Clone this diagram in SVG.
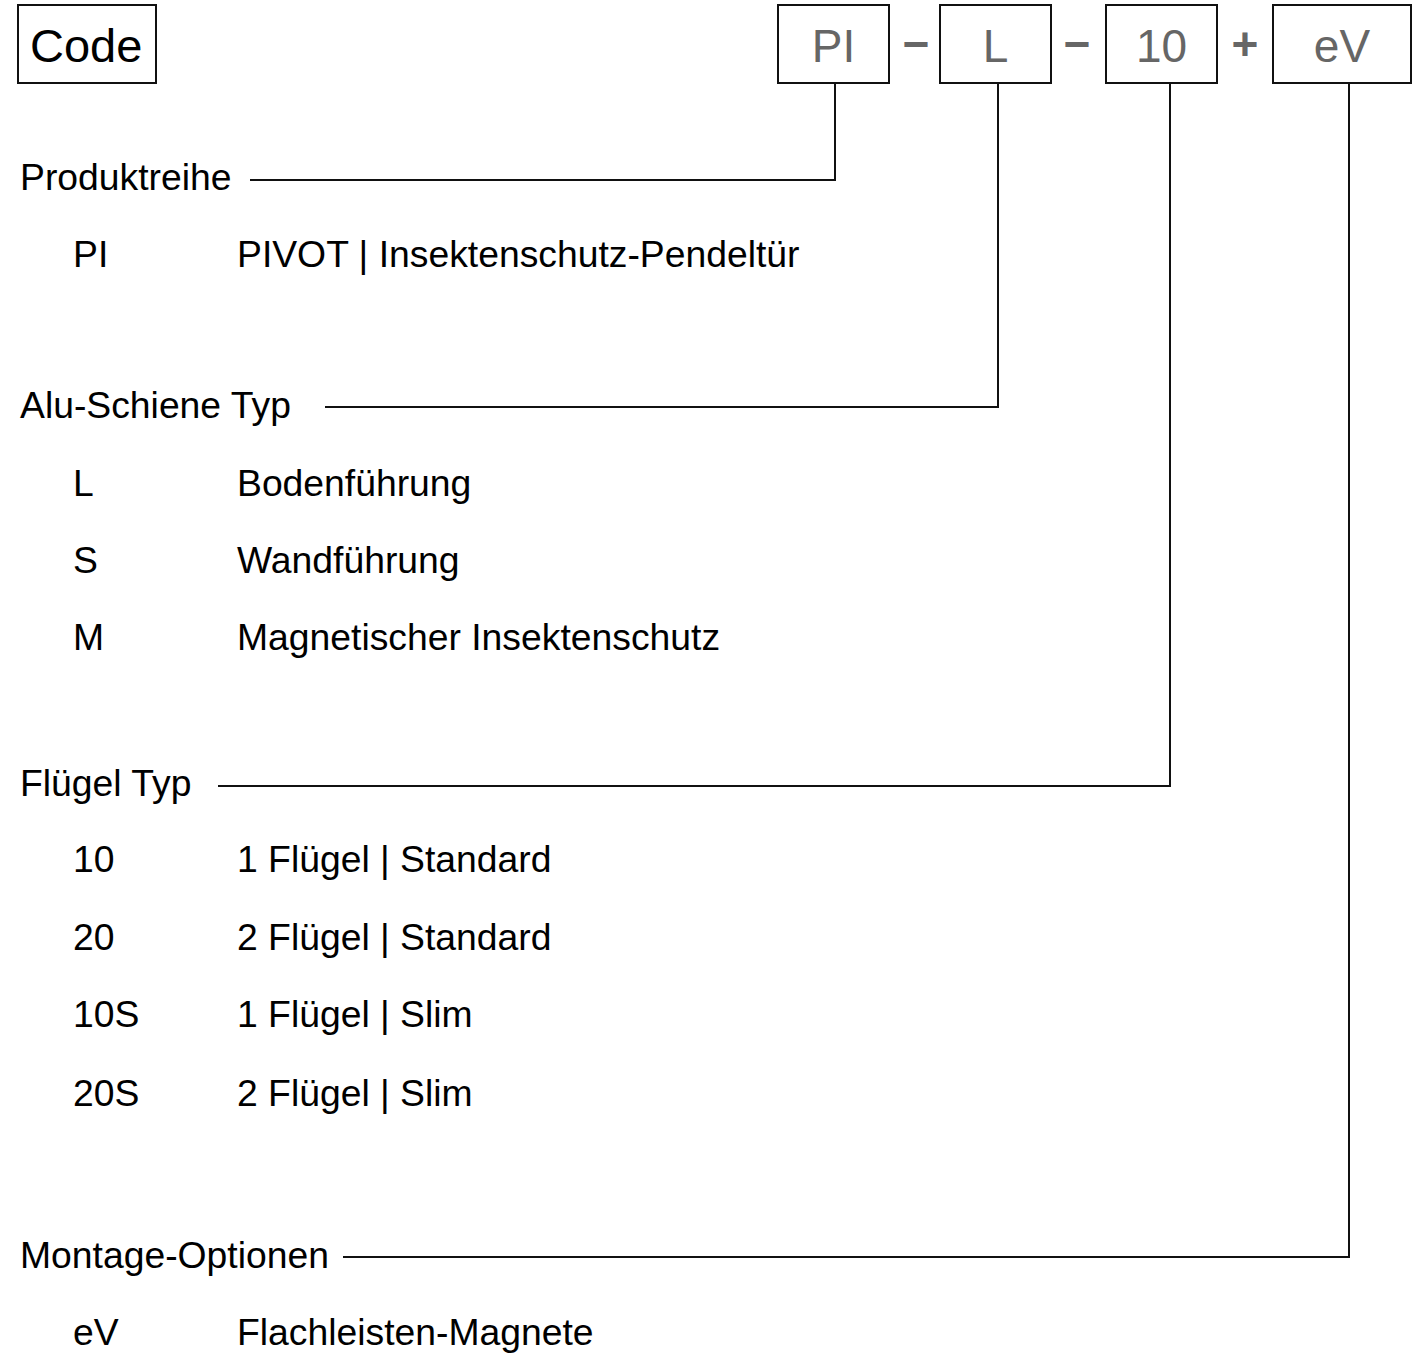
<svg xmlns="http://www.w3.org/2000/svg" width="1413" height="1360" viewBox="0 0 1413 1360">
<style>
.box{fill:#fff;stroke:#111;stroke-width:2}
.bt{font-family:"Liberation Sans",Arial,sans-serif;font-size:46px;fill:#666;text-anchor:middle}
.ct{font-family:"Liberation Sans",Arial,sans-serif;font-size:47px;fill:#000}
.op{font-family:"Liberation Sans",Arial,sans-serif;font-size:46px;font-weight:bold;fill:#666;text-anchor:middle}
.t{font-family:"Liberation Sans",Arial,sans-serif;font-size:37.3px;fill:#000}
.ln{fill:none;stroke:#111;stroke-width:2}
</style>
<rect width="1413" height="1360" fill="#fff"/>
<g id="code"><rect class="box" x="18" y="5" width="138" height="78"/><text class="ct" x="30" y="62">Code</text></g>
<g id="box-pi"><rect class="box" x="778" y="5" width="111" height="78"/><text class="bt" x="833.5" y="62">PI</text></g>
<g id="box-l"><rect class="box" x="940" y="5" width="111" height="78"/><text class="bt" x="995.5" y="62">L</text></g>
<g id="box-10"><rect class="box" x="1106" y="5" width="111" height="78"/><text class="bt" x="1161.5" y="62">10</text></g>
<g id="box-ev"><rect class="box" x="1273" y="5" width="138" height="78"/><text class="bt" x="1342" y="62">eV</text></g>
<g id="separators">
<text class="op" x="916" y="60">−</text>
<text class="op" x="1077" y="60">−</text>
<text class="op" x="1245" y="60">+</text>
</g>
<g id="connectors">
<polyline class="ln" points="835,83 835,180 250,180"/>
<polyline class="ln" points="998,83 998,407 325,407"/>
<polyline class="ln" points="1170,83 1170,786 218,786"/>
<polyline class="ln" points="1349,83 1349,1257 343,1257"/>
</g>
<g id="produktreihe">
<text class="t" x="20" y="190">Produktreihe</text>
<text class="t" x="73" y="267">PI</text><text class="t" x="237" y="267">PIVOT | Insektenschutz-Pendeltür</text>
</g>
<g id="alu-schiene">
<text class="t" x="20" y="418">Alu-Schiene Typ</text>
<text class="t" x="73" y="496">L</text><text class="t" x="237" y="496">Bodenführung</text>
<text class="t" x="73" y="573">S</text><text class="t" x="237" y="573">Wandführung</text>
<text class="t" x="73" y="650">M</text><text class="t" x="237" y="650">Magnetischer Insektenschutz</text>
</g>
<g id="fluegel">
<text class="t" x="20" y="796">Flügel Typ</text>
<text class="t" x="73" y="872">10</text><text class="t" x="237" y="872">1 Flügel | Standard</text>
<text class="t" x="73" y="950">20</text><text class="t" x="237" y="950">2 Flügel | Standard</text>
<text class="t" x="73" y="1027">10S</text><text class="t" x="237" y="1027">1 Flügel | Slim</text>
<text class="t" x="73" y="1106">20S</text><text class="t" x="237" y="1106">2 Flügel | Slim</text>
</g>
<g id="montage">
<text class="t" x="20" y="1268">Montage-Optionen</text>
<text class="t" x="73" y="1345">eV</text><text class="t" x="237" y="1345">Flachleisten-Magnete</text>
</g>
</svg>
